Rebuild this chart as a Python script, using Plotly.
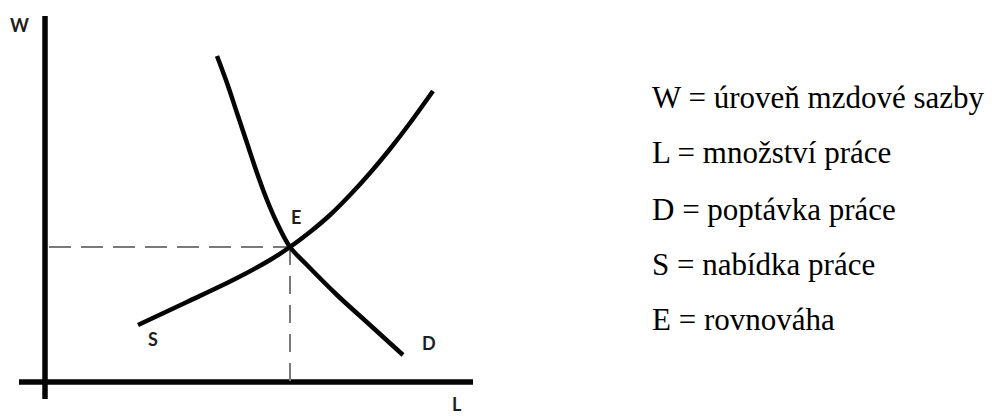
import plotly.graph_objects as go

# Data (units: L = quantity of labour, W = wage level)
d_L = [17.2, 18.2, 19.2, 20.2, 21.2, 22.2, 23.2, 24.5, 26.2, 29.2, 32.5, 35.8]
d_W = [32.6, 29.9, 26.9, 23.9, 20.9, 18.2, 15.9, 13.5, 11.7, 8.7, 5.7, 2.7]

s_L = [9.3, 14.2, 19.2, 22.5, 24.5, 26.5, 28.5, 30.5, 32.5, 34.5, 36.5, 38.8]
s_W = [5.7, 8.0, 10.4, 12.2, 13.5, 15.0, 16.7, 18.7, 20.9, 23.3, 25.9, 29.1]

eq_L = 24.5
eq_W = 13.5

axis_L_extent = [-2.6, 42.8]
axis_W_extent = [-1.7, 36.6]

point_labels = ["W", "E", "S", "D", "L"]
point_label_L = [-2.6, 25.1, 10.8, 38.4, 41.2]
point_label_W = [35.7, 16.5, 4.3, 3.9, -2.2]

legend_lines = [
    "W = úroveň mzdové sazby",
    "L = množství práce",
    "D = poptávka práce",
    "S = nabídka práce",
    "E = rovnováha",
]

fig = go.Figure()

# axes
fig.add_trace(go.Scatter(x=[0, 0], y=axis_W_extent, mode="lines",
                         line=dict(color="#050505", width=5.5), hoverinfo="skip"))
fig.add_trace(go.Scatter(x=axis_L_extent, y=[0, 0], mode="lines",
                         line=dict(color="#050505", width=5.5), hoverinfo="skip"))

# dashed guides
fig.add_trace(go.Scatter(x=[0.4, eq_L], y=[eq_W, eq_W], mode="lines",
                         line=dict(color="#7a7a7a", width=2, dash="22px,10px"), hoverinfo="skip"))
fig.add_trace(go.Scatter(x=[eq_L, eq_L], y=[eq_W, 0], mode="lines",
                         line=dict(color="#7a7a7a", width=2, dash="18px,11px"), hoverinfo="skip"))

# curves
fig.add_trace(go.Scatter(x=d_L, y=d_W, mode="lines",
                         line=dict(color="#050505", width=4.5, shape="spline", smoothing=1.0)))
fig.add_trace(go.Scatter(x=s_L, y=s_W, mode="lines",
                         line=dict(color="#050505", width=4.5, shape="spline", smoothing=1.0)))

annotations = []
for t, lx, ly in zip(point_labels, point_label_L, point_label_W):
    annotations.append(dict(x=lx, y=ly, xref="x", yref="y", text=f"<b>{t}</b>",
                            showarrow=False, xanchor="center", yanchor="middle",
                            font=dict(family="Lato, Open Sans, sans-serif", size=18, color="#1e1e1e")))

legend_y_px = [96, 151, 207, 262, 317]
for t, ypx in zip(legend_lines, legend_y_px):
    annotations.append(dict(x=650 / 992, y=1 - (ypx + 2) / 417, xref="paper", yref="paper",
                            text=t, showarrow=False, xanchor="left", yanchor="middle",
                            font=dict(family="Liberation Serif, Times New Roman, serif",
                                      size=31, color="#000000")))

fig.update_layout(
    width=992, height=417,
    margin=dict(l=0, r=0, t=0, b=0),
    paper_bgcolor="white", plot_bgcolor="white",
    showlegend=False,
    annotations=annotations,
    xaxis=dict(range=[-4.5, 94.7], visible=False, fixedrange=True),
    yaxis=dict(range=[-3.5, 38.2], visible=False, fixedrange=True),
)

fig.write_html("out.html", config={"displayModeBar": False},
               post_script="document.body.style.margin='0px';document.body.style.overflow='hidden';")
